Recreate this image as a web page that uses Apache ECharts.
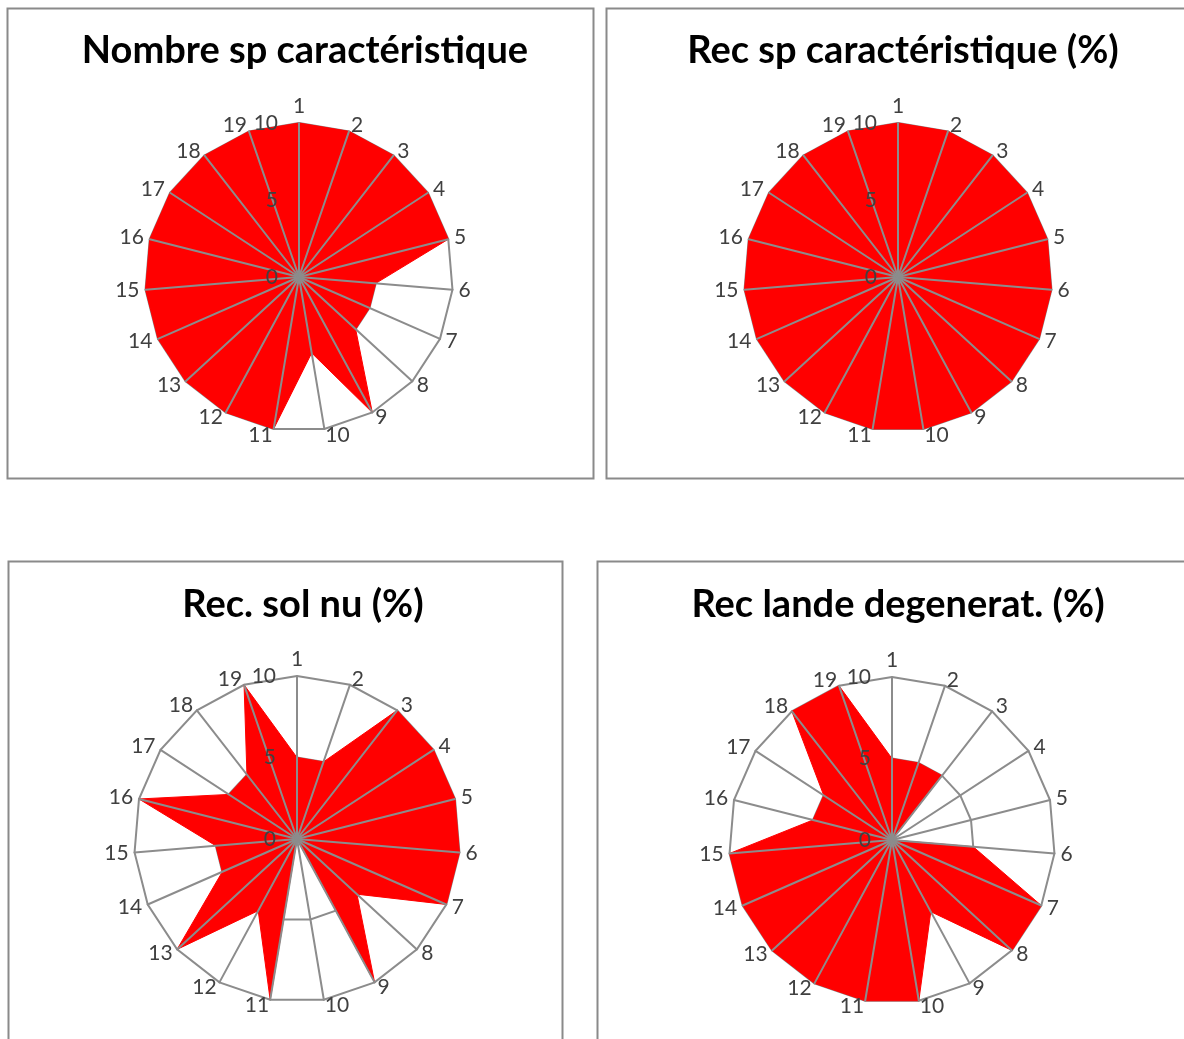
<!DOCTYPE html>
<html>
<head>
<meta charset="utf-8">
<script src="https://cdn.jsdelivr.net/npm/echarts@6/dist/echarts.min.js"></script>
<style>
  html, body { margin: 0; padding: 0; background: #ffffff; }
  #chart { width: 1184px; height: 1039px; }
</style>
</head>
<body>
<div id="chart"></div>
<script>
// ---- data ----
const categories = ['1','2','3','4','5','6','7','8','9','10','11','12','13','14','15','16','17','18','19'];
const titles = ['Nombre sp caractéristique', 'Rec sp caractéristique (%)', 'Rec. sol nu (%)', 'Rec lande degenerat. (%)'];
const nombreSpCaracteristique = [10,10,10,10,10,5,5,5,10,5,10,10,10,10,10,10,10,10,10];
const recSpCaracteristique    = [10,10,10,10,10,10,10,10,10,10,10,10,10,10,10,10,10,10,10];
const recSolNu                = [5,5,10,10,10,10,10,5,10,0,10,5,10,5,5,10,5,5,10];
const recLandeDegenerat       = [5,5,5,0,0,5,10,10,5,10,10,10,10,10,10,5,5,10,10];
const axisMin = 0;
const axisMax = 10;
const axisSplitNumber = 2;

// ---- layout ----
const panels = [
  { values: nombreSpCaracteristique, title: titles[0], box: [7, 8, 586, 470],   titleX: 300, titleY: 27,  center: [299, 277], radius: 154 },
  { values: recSpCaracteristique,    title: titles[1], box: [606, 8, 600, 470], titleX: 898, titleY: 27,  center: [898, 277], radius: 154 },
  { values: recSolNu,                title: titles[2], box: [8, 561, 554, 520], titleX: 298, titleY: 581, center: [297, 839], radius: 163 },
  { values: recLandeDegenerat,       title: titles[3], box: [597, 561, 600, 520], titleX: 893, titleY: 581, center: [892, 840], radius: 163 }
];

// ECharts radar runs counter-clockwise; reverse order (keeping "1" on top) to run clockwise
const order = [0].concat(categories.map((c, i) => i).slice(1).reverse());

const GRID = '#8c8c8c';
const TEXT = '#404040';
const FONT = 'Lato, "Open Sans", sans-serif';

const radars = [];
const series = [];
const titleOpts = [];
const graphics = [];

panels.forEach((p, pi) => {
  const indicatorBase = order.map(i => ({ name: categories[i], min: axisMin, max: axisMax }));
  // background radar: split polygons (below the filled area)
  radars.push({
    center: p.center, radius: p.radius, shape: 'polygon', startAngle: 90,
    splitNumber: axisSplitNumber, z: 0,
    indicator: indicatorBase.map(d => Object.assign({}, d)),
    axisName: { show: false },
    axisLine: { show: false },
    axisTick: { show: false },
    axisLabel: { show: false },
    splitArea: { show: false },
    splitLine: { show: true, lineStyle: { color: ['rgba(0,0,0,0)', GRID, GRID], width: 2 } }
  });
  // foreground radar: spokes, names, value labels (above the filled area)
  const ind = indicatorBase.map(d => Object.assign({}, d));
  ind[0].axisLabel = { show: true };
  radars.push({
    center: p.center, radius: p.radius, shape: 'polygon', startAngle: 90,
    splitNumber: axisSplitNumber, z: 3,
    indicator: ind,
    nameGap: 6,
    axisName: { show: true, color: TEXT, fontSize: 21, fontFamily: FONT },
    axisLine: { show: true, lineStyle: { color: GRID, width: 2 } },
    axisTick: { show: false },
    axisLabel: { show: false, color: TEXT, fontSize: 21, fontFamily: FONT, margin: 21, showMinLabel: true, showMaxLabel: true },
    splitArea: { show: false },
    splitLine: { show: false }
  });
  series.push({
    type: 'radar', radarIndex: pi * 2, z: 2, silent: true,
    symbol: 'none',
    lineStyle: { color: '#ff0000', width: 1 },
    areaStyle: { color: '#ff0000', opacity: 1 },
    data: [{ value: order.map(i => p.values[i]), name: p.title }]
  });
  titleOpts.push({
    text: p.title, left: p.titleX, top: p.titleY, textAlign: 'center',
    textStyle: { fontFamily: FONT, fontWeight: 'bold', fontSize: 38, color: '#000000' }
  });
  graphics.push({
    type: 'rect', silent: true, z: -1,
    shape: { x: p.box[0] + 0.5, y: p.box[1] + 0.5, width: p.box[2], height: p.box[3] },
    style: { fill: 'none', stroke: '#8a8a8a', lineWidth: 2 }
  });
});

const chart = echarts.init(document.getElementById('chart'), null, { renderer: 'canvas' });
chart.setOption({
  animation: false,
  backgroundColor: '#ffffff',
  title: titleOpts,
  radar: radars,
  series: series,
  graphic: graphics
});
</script>
</body>
</html>
